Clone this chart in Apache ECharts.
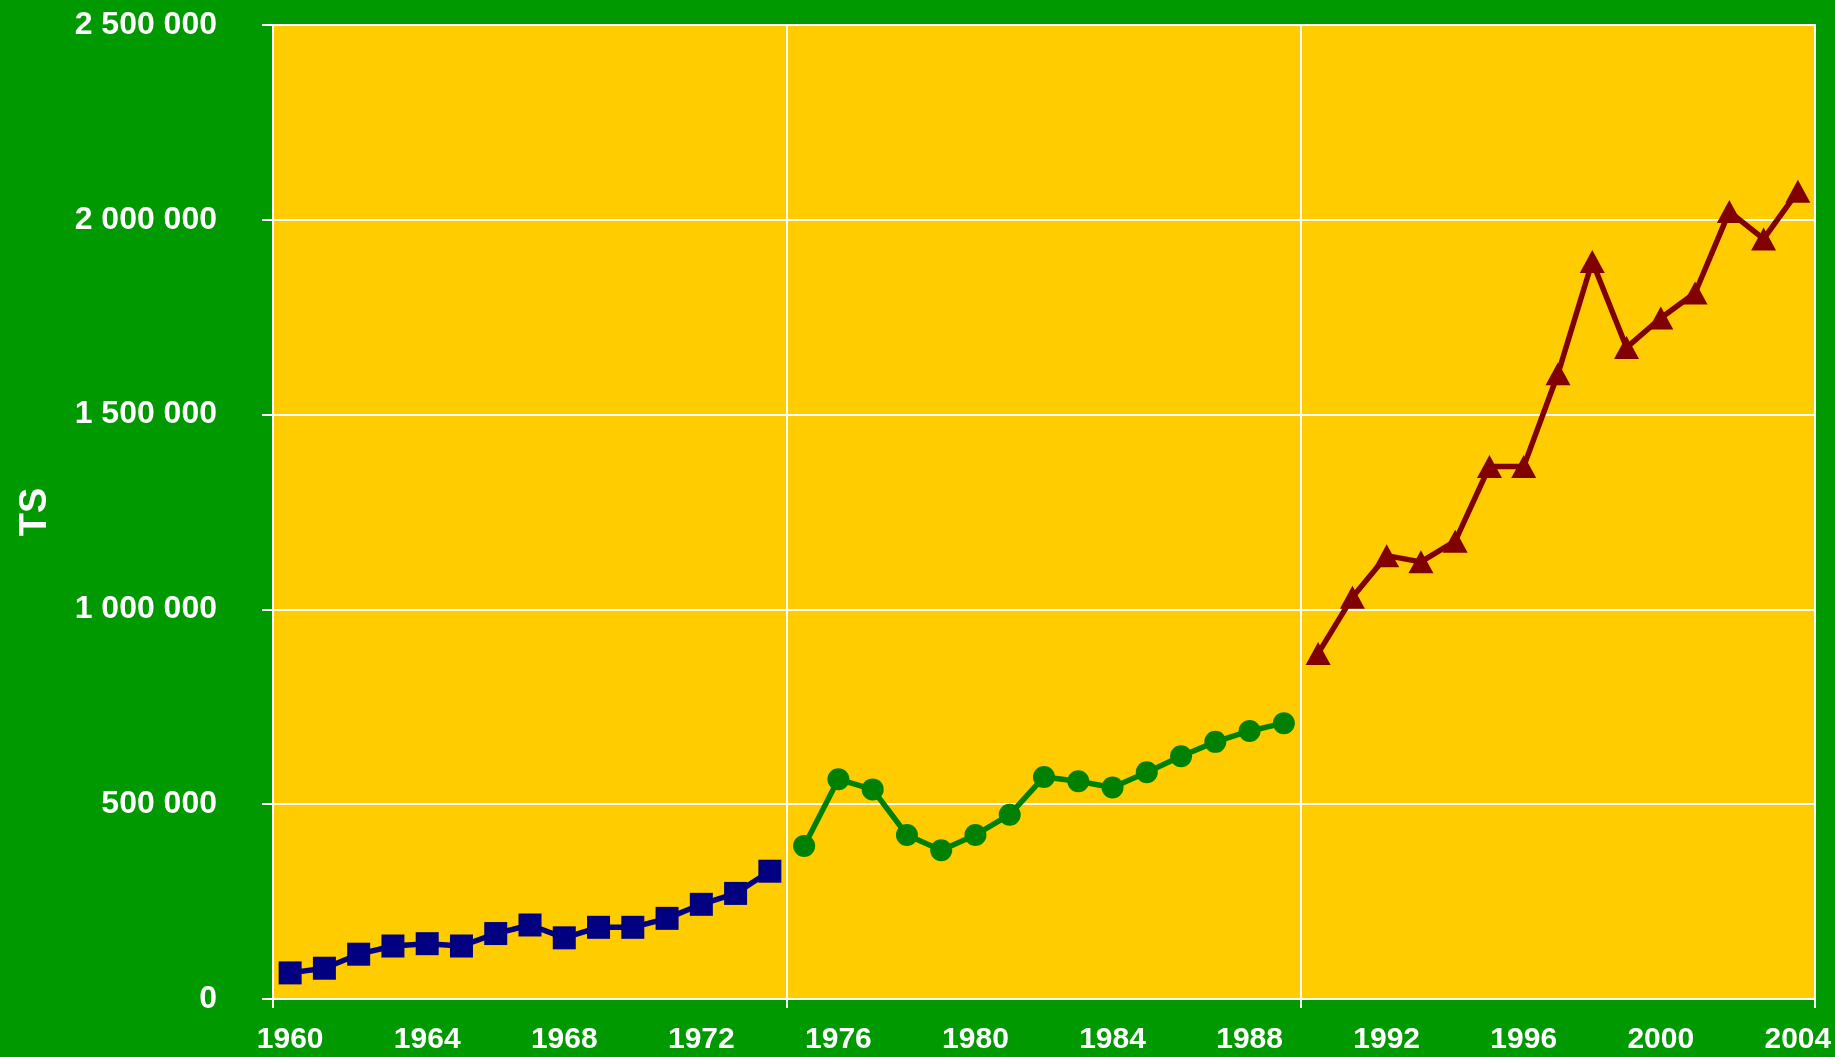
<!DOCTYPE html>
<html>
<head>
<meta charset="utf-8">
<title>TS</title>
<script src="https://cdn.jsdelivr.net/npm/echarts@6/dist/echarts.min.js"></script>
<style>
	html, body{
		margin: 0;
		padding: 0;
		background-color: #009900;
	}
	#main{
		width: 1835px;
		height: 1057px;
	}
</style>
</head>
<body>
<div id="main"></div>
<script>
	// years on the category axis
	var years = ['1960','1961','1962','1963','1964','1965','1966','1967','1968','1969',
		'1970','1971','1972','1973','1974','1975','1976','1977','1978','1979',
		'1980','1981','1982','1983','1984','1985','1986','1987','1988','1989',
		'1990','1991','1992','1993','1994','1995','1996','1997','1998','1999',
		'2000','2001','2002','2003','2004']

	// 1960 - 1974
	var blueValues = [67000, 79000, 115000, 136000, 142000, 136000, 168000, 190000, 157000, 184000,
		184000, 207000, 243000, 271000, 328000]
	// 1975 - 1989
	var greenValues = [393000, 564000, 538000, 421000, 382000, 421000, 473000, 570000, 559000, 543000,
		582000, 623000, 660000, 688000, 708000]
	// 1990 - 2004
	var redValues = [887000, 1031000, 1138000, 1122000, 1175000, 1367000, 1367000, 1605000, 1893000, 1672000,
		1748000, 1812000, 2021000, 1951000, 2073000]

	var yTicks = {min: 0, max: 2500000, interval: 500000}

	// put each block of 15 years at its place on the 45 year axis
	function pad(values, start){
		var data = []
		for(var i = 0; i < years.length; i++){
			var k = i - start
			data.push(k >= 0 && k < values.length ? values[k] : null)
		}
		return data
	}

	function spaced(v){
		return String(v).replace(/\B(?=(\d{3})+(?!\d))/g, ' ')
	}

	var font = "'Liberation Sans', Arial, sans-serif"

	var myChart = echarts.init(document.getElementById('main'))
	var option = {
		backgroundColor: '#009900',
		animation: false,
		grid: {
			left: 273,
			right: 20,
			top: 25,
			bottom: 58,
			containLabel: false,
			outerBoundsMode: 'none',
			show: true,
			backgroundColor: '#FFCC00',
			borderColor: '#ffffff',
			borderWidth: 2
		},
		xAxis: {
			type: 'category',
			data: years,
			boundaryGap: true,
			axisLine: {
				lineStyle: {color: '#ffffff', width: 2}
			},
			axisTick: {
				show: true,
				interval: 14,
				length: 9,
				lineStyle: {color: '#ffffff', width: 2}
			},
			axisLabel: {
				interval: 3,
				color: '#ffffff',
				fontFamily: font,
				fontWeight: 'bold',
				fontSize: 30,
				margin: 26
			},
			splitLine: {
				show: true,
				interval: 14,
				lineStyle: {color: '#ffffff', width: 2}
			}
		},
		yAxis: {
			type: 'value',
			min: yTicks.min,
			max: yTicks.max,
			interval: yTicks.interval,
			name: 'TS',
			nameLocation: 'middle',
			nameGap: 218,
			nameRotate: 90,
			nameTextStyle: {
				color: '#ffffff',
				fontFamily: font,
				fontWeight: 'bold',
				fontSize: 38
			},
			axisLine: {
				show: true,
				lineStyle: {color: '#ffffff', width: 2}
			},
			axisTick: {
				show: true,
				length: 11,
				lineStyle: {color: '#ffffff', width: 2}
			},
			axisLabel: {
				color: '#ffffff',
				fontFamily: font,
				fontWeight: 'bold',
				fontSize: 32,
				margin: 56,
				formatter: spaced
			},
			splitLine: {
				show: true,
				lineStyle: {color: '#ffffff', width: 2}
			}
		},
		series: [
			{
				name: '1960-1974',
				type: 'line',
				data: pad(blueValues, 0),
				symbol: 'rect',
				symbolSize: 23,
				showAllSymbol: true,
				lineStyle: {color: '#000080', width: 5.5},
				itemStyle: {color: '#000080'}
			},
			{
				name: '1975-1989',
				type: 'line',
				data: pad(greenValues, 15),
				symbol: 'circle',
				symbolSize: 22,
				showAllSymbol: true,
				lineStyle: {color: '#008000', width: 5.5},
				itemStyle: {color: '#008000'}
			},
			{
				name: '1990-2004',
				type: 'line',
				data: pad(redValues, 30),
				symbol: 'triangle',
				symbolSize: [25, 23],
				showAllSymbol: true,
				lineStyle: {color: '#800000', width: 5.5},
				itemStyle: {color: '#800000'}
			}
		]
	}
	myChart.setOption(option, true)
</script>
</body>
</html>
